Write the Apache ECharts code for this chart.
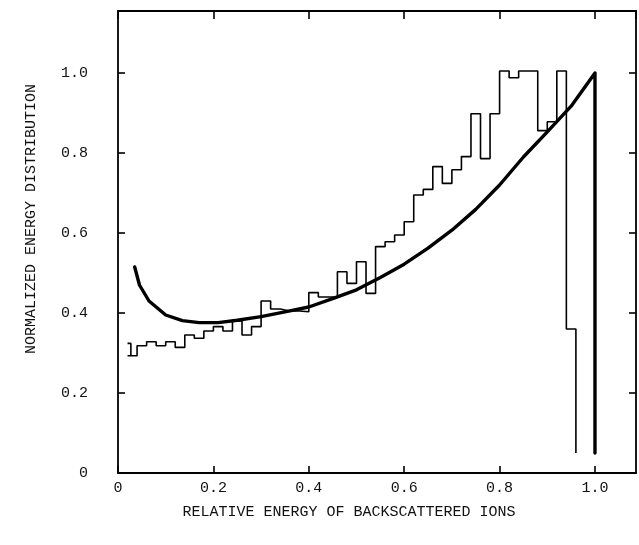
<!DOCTYPE html>
<html>
<head>
<meta charset="utf-8">
<script src="https://cdn.jsdelivr.net/npm/echarts@6/dist/echarts.min.js"></script>
<style>
  html, body { margin: 0; padding: 0; background: #fff; }
  #chart { width: 639px; height: 545px; }
</style>
</head>
<body>
<div id="chart"></div>
<script>
// histogram: bins of 0.02 starting at 0.02, heights
const histStart = 0.02;
const binWidth = 0.02;
const histLead = [0.02, 0.027, 0.324]; // short first piece before the first full step
const histValues = [
  0.293, 0.318, 0.328, 0.318, 0.328, 0.314, 0.345, 0.337, 0.355, 0.366,
  0.355, 0.380, 0.345, 0.366, 0.430, 0.410, 0.405, 0.405, 0.403, 0.451,
  0.440, 0.440, 0.503, 0.474, 0.528, 0.449, 0.566, 0.578, 0.595, 0.628,
  0.695, 0.709, 0.766, 0.724, 0.758, 0.791, 0.898, 0.786, 0.898, 1.005,
  0.988, 1.005, 1.005, 0.856, 0.878, 1.005, 0.360
];
const histEndValue = 0.05;

// smooth theoretical curve
const curveX = [0.035, 0.045, 0.065, 0.10, 0.135, 0.17, 0.21, 0.25, 0.30, 0.35,
  0.40, 0.45, 0.50, 0.55, 0.60, 0.65, 0.70, 0.75, 0.80, 0.85, 0.90, 0.95, 1.0];
const curveY = [0.515, 0.47, 0.43, 0.395, 0.381, 0.376, 0.376, 0.382, 0.391, 0.403,
  0.415, 0.436, 0.458, 0.489, 0.522, 0.562, 0.607, 0.659, 0.72, 0.79, 0.853, 0.917, 1.0];
const curveEndValue = 0.05;

const xTicks = [0, 0.2, 0.4, 0.6, 0.8, 1.0];
const yTicks = [0, 0.2, 0.4, 0.6, 0.8, 1.0];

const font = 'Liberation Mono';

// step outline of the histogram
const histPoints = [[histLead[0], histLead[2]], [histLead[1], histLead[2]], [histLead[1], histValues[0]]];
histValues.forEach((v, i) => {
  const a = +(histStart + i * binWidth).toFixed(3);
  const b = +(histStart + (i + 1) * binWidth).toFixed(3);
  histPoints.push([a, v], [b, v]);
});
const histEnd = +(histStart + histValues.length * binWidth).toFixed(3);
histPoints.push([histEnd, histEndValue]);

const curvePoints = curveX.map((x, i) => [x, curveY[i]]);
curvePoints.push([curveX[curveX.length - 1], curveEndValue]);

const chart = echarts.init(document.getElementById('chart'));

const fmt = (v) => (v === 0 ? '0' : v.toFixed(1));
const isTick = (list) => (v) => list.some((t) => Math.abs(t - v) < 1e-6);

// the four axis lines make the frame, ticks point inward
const line = { show: true, onZero: false, lineStyle: { color: '#000', width: 1.8 } };
const tick = (len) => ({ inside: true, length: len, lineStyle: { color: '#000', width: 1.6 } });

const option = {
  animation: false,
  backgroundColor: '#fff',
  grid: { left: 118, top: 11, width: 518, height: 462, show: false },
  xAxis: [
    {
      type: 'value', min: 0, max: 1.086, interval: 0.2,
      axisLine: line,
      axisTick: tick(7),
      splitLine: { show: false },
      axisLabel: {
        showMaxLabel: false, margin: 8, color: '#111',
        fontFamily: font, fontSize: 15,
        formatter: (v) => (isTick(xTicks)(v) ? fmt(v) : '')
      }
    },
    {
      type: 'value', position: 'top', min: 0, max: 1.086, interval: 0.2,
      axisLine: line,
      axisTick: tick(8),
      splitLine: { show: false },
      axisLabel: { show: false }
    }
  ],
  yAxis: [
    {
      type: 'value', min: 0, max: 1.155, interval: 0.2,
      axisLine: line,
      axisTick: tick(7),
      splitLine: { show: false },
      axisLabel: {
        showMaxLabel: false, margin: 30, color: '#111',
        fontFamily: font, fontSize: 15,
        formatter: (v) => (isTick(yTicks)(v) ? fmt(v) : '')
      }
    },
    {
      type: 'value', position: 'right', min: 0, max: 1.155, interval: 0.2,
      axisLine: line,
      axisTick: tick(7),
      splitLine: { show: false },
      axisLabel: { show: false }
    }
  ],
  graphic: [
    {
      type: 'text', x: 349, y: 512,
      style: {
        text: 'RELATIVE ENERGY OF BACKSCATTERED IONS',
        fontFamily: font, fontSize: 15, fill: '#111',
        align: 'center', verticalAlign: 'middle'
      }
    },
    {
      type: 'text', x: 31, y: 219, rotation: Math.PI / 2,
      style: {
        text: 'NORMALIZED ENERGY DISTRIBUTION',
        fontFamily: font, fontSize: 15, fill: '#111',
        align: 'center', verticalAlign: 'middle'
      }
    }
  ],
  series: [
    {
      name: 'histogram', type: 'line', data: histPoints,
      showSymbol: false, symbol: 'none',
      lineStyle: { color: '#000', width: 1.6 }
    },
    {
      name: 'theory', type: 'line', data: curvePoints,
      showSymbol: false, symbol: 'none',
      lineStyle: { color: '#000', width: 3.4, join: 'round', cap: 'round' }
    }
  ]
};

chart.setOption(option);
</script>
</body>
</html>
